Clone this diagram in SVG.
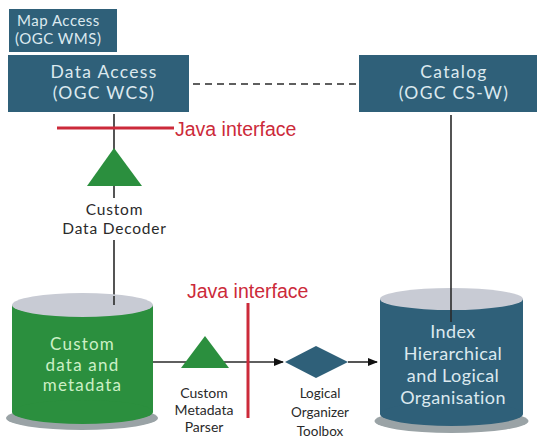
<svg xmlns="http://www.w3.org/2000/svg" width="537" height="439" viewBox="0 0 537 439">
<defs>
<marker id="arr" markerWidth="10" markerHeight="8" refX="9" refY="4" orient="auto" markerUnits="userSpaceOnUse">
<path d="M0,0 L10,4 L0,8 Z" fill="#111"/>
</marker>
</defs>
<style>
.box{fill:#2f6079}
.bt{font-family:Lato,"Open Sans",sans-serif;fill:#dce9ef;text-anchor:middle}
.lbl{font-family:Lato,"Open Sans",sans-serif;fill:#2a2a2a;text-anchor:middle}
.gt{font-family:Lato,"Open Sans",sans-serif;fill:#cdf0c6;text-anchor:middle}
.java{font-family:"Liberation Sans",Arial,sans-serif;fill:#cc2a3a;font-size:19.5px}
.ln{stroke:#2a2a2a;stroke-width:1.6;fill:none}
.red{stroke:#cc2a3a;stroke-width:3;fill:none}
.tri{fill:#2b8f3e}
.top{fill:#c8cbd4}
.shadow{fill:#9aa3a6}
</style>
<rect width="537" height="439" fill="#fff"/>

<g id="map-access">
<rect class="box" x="9" y="9" width="108" height="43"/>
<text class="bt" x="17" y="26" font-size="15" letter-spacing="0.5" style="text-anchor:start">Map Access</text>
<text class="bt" x="15" y="44" font-size="15" letter-spacing="0.5" style="text-anchor:start">(OGC WMS)</text>
</g>

<g id="data-access">
<rect class="box" x="8" y="55" width="181" height="57"/>
<text class="bt" x="104" y="78" font-size="17.5" letter-spacing="1.3">Data Access</text>
<text class="bt" x="104" y="99" font-size="17.5" letter-spacing="1.3">(OGC WCS)</text>
</g>

<g id="catalog">
<rect class="box" x="359" y="55" width="178" height="57"/>
<text class="bt" x="454" y="78" font-size="17.5" letter-spacing="1.3">Catalog</text>
<text class="bt" x="454" y="99" font-size="17.5" letter-spacing="1.3">(OGC CS-W)</text>
</g>

<g id="connectors">
<line class="ln" x1="193" y1="84" x2="357" y2="84" stroke-dasharray="7,5"/>
<line class="ln" x1="114" y1="114" x2="114" y2="150"/>
<line class="ln" x1="114" y1="186" x2="114" y2="198"/>
<line class="ln" x1="114" y1="240" x2="114" y2="305"/>
<line class="ln" x1="451" y1="115" x2="451" y2="322"/>
<line class="ln" x1="153" y1="362" x2="283" y2="362" marker-end="url(#arr)"/>
<line class="ln" x1="348" y1="362" x2="377" y2="362" marker-end="url(#arr)"/>
</g>

<g id="java-interface-1">
<line class="red" x1="57" y1="128" x2="174" y2="128"/>
<text class="java" x="175" y="136">Java interface</text>
</g>

<g id="java-interface-2">
<line class="red" x1="248" y1="303" x2="248" y2="418"/>
<text class="java" x="187" y="298">Java interface</text>
</g>

<g id="custom-data-decoder">
<polygon class="tri" points="114,148 87,186 142,186"/>
<text class="lbl" x="114.5" y="215" font-size="15.5" letter-spacing="0.8">Custom</text>
<text class="lbl" x="114.5" y="234" font-size="15.5" letter-spacing="0.8">Data Decoder</text>
</g>

<g id="custom-data">
<ellipse class="shadow" cx="82" cy="418" rx="76" ry="12"/>
<rect class="tri" x="12" y="305" width="141" height="107"/>
<ellipse class="tri" cx="82.5" cy="412" rx="70.5" ry="12"/>
<ellipse class="top" cx="82.5" cy="305" rx="70.5" ry="12"/>
<line class="ln" x1="114" y1="296" x2="114" y2="305"/>
<text class="gt" x="82.5" y="350" font-size="17" letter-spacing="1.2">Custom</text>
<text class="gt" x="82.5" y="370.5" font-size="17" letter-spacing="1.2">data and</text>
<text class="gt" x="82.5" y="391" font-size="17" letter-spacing="1.2">metadata</text>
</g>

<g id="custom-metadata-parser">
<polygon class="tri" points="205,336 181,368 229,368"/>
<text class="lbl" x="204" y="398" font-size="14">Custom</text>
<text class="lbl" x="204" y="415" font-size="14">Metadata</text>
<text class="lbl" x="204" y="432" font-size="14">Parser</text>
</g>

<g id="logical-organizer">
<polygon class="box" points="285,362 316,346 348,362 316,378"/>
<text class="lbl" x="320" y="398" font-size="13.5">Logical</text>
<text class="lbl" x="320" y="417" font-size="13.5">Organizer</text>
<text class="lbl" x="320" y="436" font-size="13.5">Toolbox</text>
</g>

<g id="index">
<ellipse class="shadow" cx="451.5" cy="421" rx="77" ry="12"/>
<rect class="box" x="380" y="299" width="143" height="115"/>
<ellipse class="box" cx="451.5" cy="414" rx="71.5" ry="12"/>
<ellipse class="top" cx="451.5" cy="299" rx="71.5" ry="11"/>
<line class="ln" x1="451" y1="288" x2="451" y2="322"/>
<text class="bt" x="453" y="338" font-size="18" letter-spacing="0.4">Index</text>
<text class="bt" x="453" y="360" font-size="18" letter-spacing="0.4">Hierarchical</text>
<text class="bt" x="453" y="382" font-size="18" letter-spacing="0.4">and Logical</text>
<text class="bt" x="453" y="404" font-size="18" letter-spacing="0.4">Organisation</text>
</g>
</svg>
